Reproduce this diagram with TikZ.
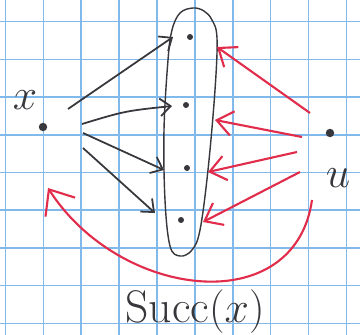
\documentclass[tikz,border=0pt]{standalone}
\usetikzlibrary{calc, positioning}
\usetikzlibrary{arrows.meta}

\definecolor{gridblue}{RGB}{130,185,235}
\definecolor{ink}{RGB}{55,55,60}
\definecolor{redink}{RGB}{225,45,75}

\begin{document}
\begin{tikzpicture}[x=0.02cm, y=-0.02cm,
  gridline/.style={gridblue, line width=0.9pt},
  bigdot/.style={circle, fill=ink, inner sep=0pt, minimum size=4.8pt},
  smalldot/.style={circle, fill=ink, inner sep=0pt, minimum size=3.4pt},
  lbl/.style={text=ink, font=\fontsize{26}{30}\selectfont},
  blkarrow/.style={ink, line width=1pt, -{Straight Barb[length=6pt, width=10pt]}},
  redarrow/.style={redink, line width=1.2pt, -{Straight Barb[length=9pt, width=14pt]}},
]
\useasboundingbox (0,0) rectangle (360,335);
\fill[white] (0,0) rectangle (360,335);

% squared paper
\foreach \i in {0,...,9}
  \draw[gridline] ({5.4+37.9*\i},0) -- ++(0,335);
\foreach \j in {0,...,8}
  \draw[gridline] (0,{21.7+37.7*\j}) -- ++(360,0);

% vertices
\node[bigdot] (x) at (43,127) {};
\node[bigdot] (u) at (330,133) {};
\node[smalldot] (s1) at (190,37) {};
\node[smalldot] (s2) at (186,105) {};
\node[smalldot] (s3) at (187,168) {};
\node[smalldot] (s4) at (181,220) {};

\node[lbl] (xlab) at (25,100) {$x$};
\node[lbl] (ulab) at (338,178) {$u$};
\node[lbl] (succ) at (195,312) {Succ$(x)$};

% the set Succ(x)
\draw[ink, line width=0.8pt] plot[smooth cycle, tension=0.6] coordinates
  {(193,8) (204,11) (212,20) (217,38) (215,90) (208,170) (200,230)
   (192,250) (180,256) (170,246) (165,200) (164,130) (168,60) (172,30)
   (180,13)};

% arcs out of x
\coordinate (xt1) at ($(x)+(25,-18)$);
\coordinate (xh1) at ($(s1)+(-17,0)$);
\coordinate (xt2) at ($(x)+(39,-3)$);
\coordinate (xh2) at ($(s2)+(-14,1)$);
\coordinate (xt3) at ($(x)+(40,6)$);
\coordinate (xh3) at ($(s3)+(-23,2)$);
\coordinate (xt4) at ($(x)+(40,21)$);
\coordinate (xh4) at ($(s4)+(-26,-7)$);
\draw[blkarrow] (xt1) -- (xh1);
\draw[blkarrow] (xt2) .. controls (125,111) .. (xh2);
\draw[blkarrow] (xt3) -- (xh3);
\draw[blkarrow] (xt4) -- (xh4);

% arcs out of u
\coordinate (ut1) at ($(u)+(-20,-20)$);
\coordinate (uh1) at ($(s1)+(27,10)$);
\coordinate (ut2) at ($(u)+(-28,4)$);
\coordinate (uh2) at ($(s2)+(29,15)$);
\coordinate (ut3) at ($(u)+(-33,19)$);
\coordinate (uh3) at ($(s3)+(21,4)$);
\coordinate (ut4) at ($(u)+(-30,39)$);
\coordinate (uh4) at ($(s4)+(22,2)$);
\draw[redarrow] (ut1) -- (uh1);
\draw[redarrow] (ut2) -- (uh2);
\draw[redarrow] (ut3) -- (uh3);
\draw[redarrow] (ut4) -- (uh4);

\coordinate (ut5) at ($(u)+(-18,67)$);
\coordinate (xh5) at ($(x)+(5,61)$);
\draw[redarrow, -{Straight Barb[length=12pt, width=20pt]}]
  (ut5) .. controls (295,320) and (120,300) .. (xh5);
\end{tikzpicture}
\end{document}
